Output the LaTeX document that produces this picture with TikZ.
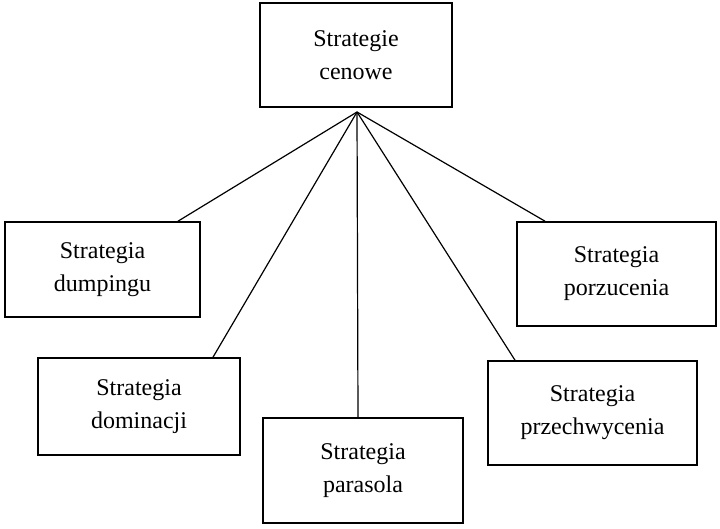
\documentclass[tikz,border=0pt]{standalone}
\usepackage{fontspec}
\setmainfont{Liberation Serif}
\begin{document}
\begin{tikzpicture}[x=1pt,y=-1pt,
  box/.style={draw,line width=1.6pt,fill=white,align=center,font=\fontsize{24}{33}\selectfont},
  ln/.style={line width=1.2pt}]
\useasboundingbox (0,0) rectangle (720,529);
\node[box,minimum width=192pt,minimum height=104pt] (top) at (356,55) {Strategie\\cenowe};
\node[box,minimum width=195pt,minimum height=95pt] (dum) at (102.5,269.5) {Strategia\\dumpingu};
\node[box,minimum width=202pt,minimum height=97pt] (dom) at (139,406.5) {Strategia\\dominacji};
\node[box,minimum width=200pt,minimum height=105pt] (par) at (363,470.5) {Strategia\\parasola};
\node[box,minimum width=209pt,minimum height=104pt] (prz) at (592.5,413) {Strategia\\przechwycenia};
\node[box,minimum width=199pt,minimum height=104pt] (por) at (616.5,274) {Strategia\\porzucenia};
\coordinate (c) at (357,112);
\draw[ln] (c) -- (dum.north -| 178,0);
\draw[ln] (c) -- (dom.north -| 213,0);
\draw[ln] (c) -- (par.north -| 358,0);
\draw[ln] (c) -- (prz.north -| 515,0);
\draw[ln] (c) -- (por.north -| 545,0);
\end{tikzpicture}
\end{document}
